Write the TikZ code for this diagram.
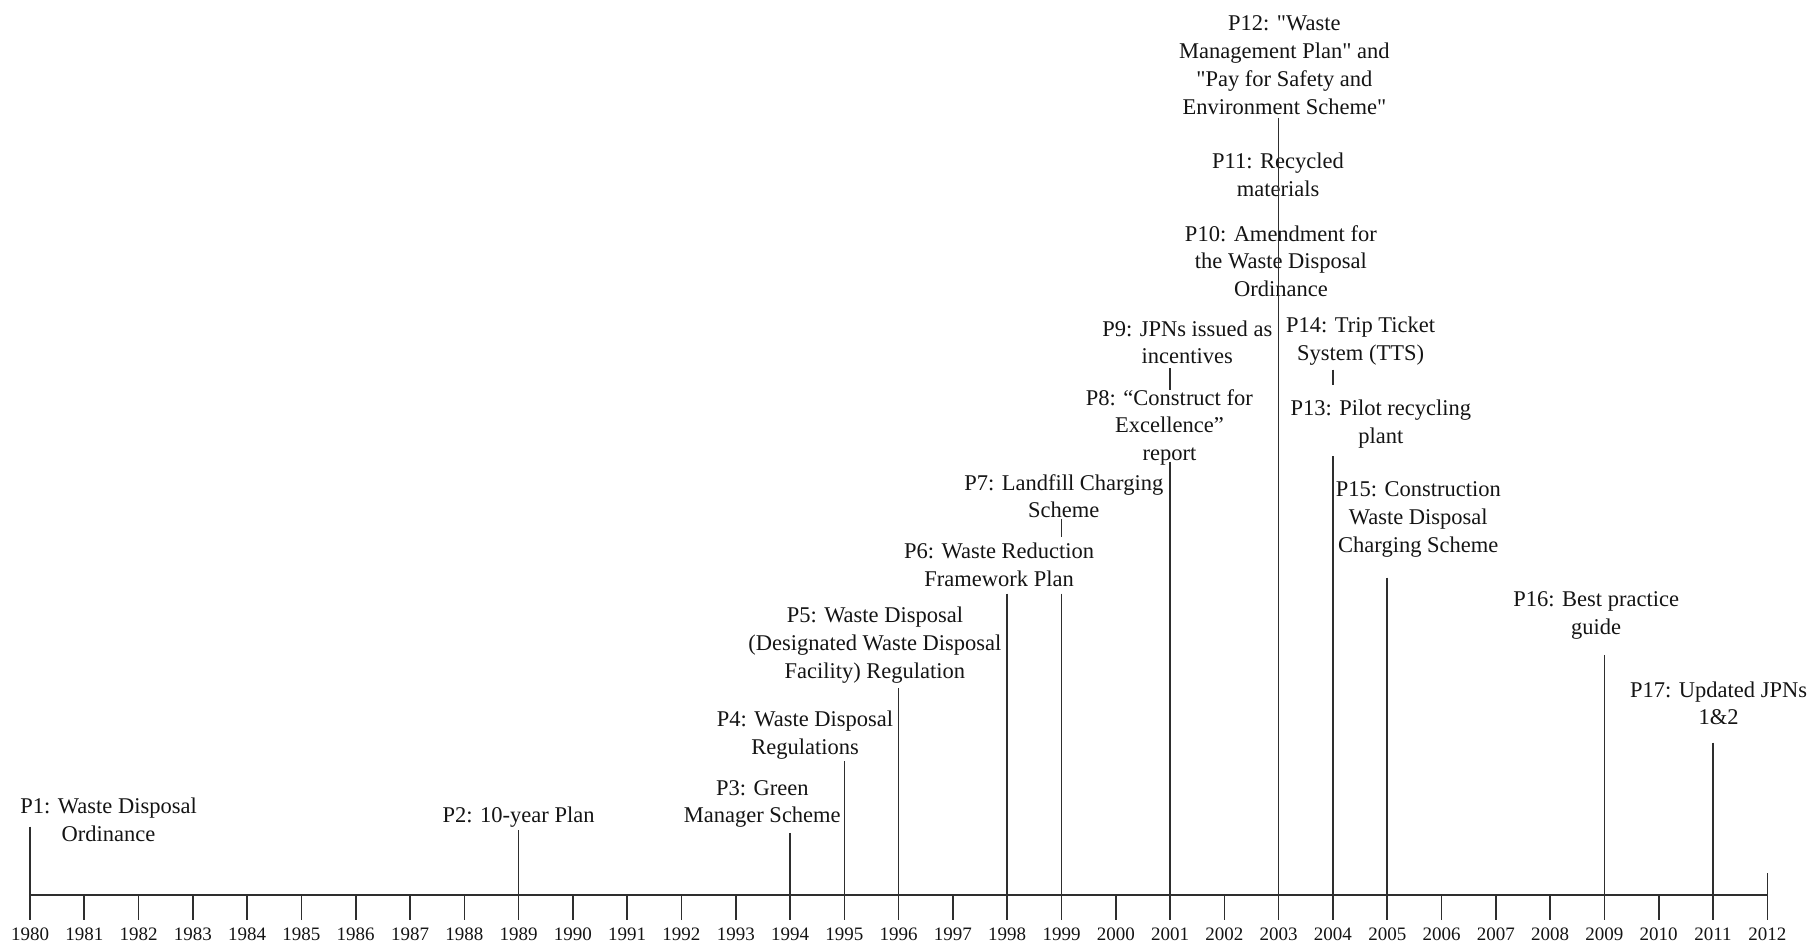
\documentclass[tikz,border=0pt]{standalone}
\usepackage{fontspec}
\setmainfont{Liberation Serif}[Ligatures=TeXOff]
\begin{document}
\begin{tikzpicture}[x=1pt,y=-1pt,
  evt/.style={align=center,inner sep=0pt,text=black!92,
              font=\fontsize{22.5}{27.7}\selectfont},
  yrlabel/.style={inner sep=0pt,text=black!92,font=\fontsize{19}{22}\selectfont},
  ln/.style={line width=1.6pt,draw=black!82}]
\useasboundingbox (0,0) rectangle (1811,944);

% time axis with one tick per year
\foreach \i [evaluate=\i as \yr using int(1980+\i)] in {0,...,32} {
  \coordinate (a\yr) at ({30+54.29*\i},895);
  \draw[ln] (a\yr) -- ++(0,25);
  \node[yrlabel] (l\yr) at ({30+54.29*\i},934) {\yr};
}
\draw[ln] (a1980) -- (a2012);
\draw[ln] (a2012) -- ++(0,-22);

% policy labels
\node[evt] (p1)  at (108.6,819.5) {P1: Waste Disposal\\Ordinance};
\node[evt] (p2)  at (518.6,817)   {P2: 10-year Plan};
\node[evt] (p3)  at (762.3,803.9) {P3: Green\\Manager Scheme};
\node[evt] (p4)  at (805,735.3)   {P4: Waste Disposal\\Regulations};
\node[evt] (p5)  at (874.9,645.3) {P5: Waste Disposal\\(Designated Waste Disposal\\Facility) Regulation};
\node[evt] (p6)  at (999.1,565.1) {P6: Waste Reduction\\Framework Plan};
\node[evt] (p7)  at (1063.8,496.3) {P7: Landfill Charging\\Scheme};
\node[evt] (p8)  at (1169.4,427.4) {P8: “Construct for\\Excellence”\\report};
\node[evt] (p9)  at (1187.3,342.2) {P9: JPNs issued as\\incentives};
\node[evt] (p10) at (1280.9,261)  {P10: Amendment for\\the Waste Disposal\\Ordinance};
\node[evt] (p11) at (1278,174.8)  {P11: Recycled\\materials};
\node[evt] (p12) at (1284.4,65.2) {P12: "Waste\\Management Plan" and\\"Pay for Safety and\\Environment Scheme"};
\node[evt] (p13) at (1380.8,423.9) {P13: Pilot recycling\\plant};
\node[evt] (p14) at (1360.6,340.8) {P14: Trip Ticket\\System (TTS)};
\node[evt] (p15) at (1418.3,519.4) {P15: Construction\\Waste Disposal\\Charging Scheme};
\node[evt] (p16) at (1596.2,615.3) {P16: Best practice\\guide};
\node[evt] (p17) at (1718.6,703.2) {P17: Updated JPNs\\1\&2};

% upper ends of the stems
\coordinate (t1)  at (a1980 |- 0,826.7);
\coordinate (t2)  at (a1989 |- 0,830.4);
\coordinate (t3)  at (a1994 |- 0,832.8);
\coordinate (t4)  at (a1995 |- 0,761.1);
\coordinate (t5)  at (a1996 |- 0,688.4);
\coordinate (t6)  at (a1998 |- 0,593.7);
\coordinate (t7)  at (a1999 |- 0,593.7);
\coordinate (t8)  at (a2001 |- 0,461.7);
\coordinate (t12) at (a2003 |- 0,117.8);
\coordinate (t13) at (a2004 |- 0,456.2);
\coordinate (t15) at (a2005 |- 0,577.5);
\coordinate (t16) at (a2009 |- 0,654.9);
\coordinate (t17) at (a2011 |- 0,742.7);
% short links between stacked labels
\coordinate (s7a)  at (a1999 |- 0,518.6);
\coordinate (s7b)  at (a1999 |- 0,537.1);
\coordinate (s9a)  at (a2001 |- 0,368);
\coordinate (s9b)  at (a2001 |- 0,390);
\coordinate (s14a) at (a2004 |- 0,369.6);
\coordinate (s14b) at (a2004 |- 0,384.6);

\foreach \t/\a in {t1/a1980,t2/a1989,t3/a1994,t4/a1995,t5/a1996,t6/a1998,
                   t7/a1999,t8/a2001,t12/a2003,t13/a2004,t15/a2005,
                   t16/a2009,t17/a2011}
  \draw[ln] (\t) -- (\a);
\draw[ln] (s7a) -- (s7b);
\draw[ln] (s9a) -- (s9b);
\draw[ln] (s14a) -- (s14b);
\end{tikzpicture}
\end{document}
